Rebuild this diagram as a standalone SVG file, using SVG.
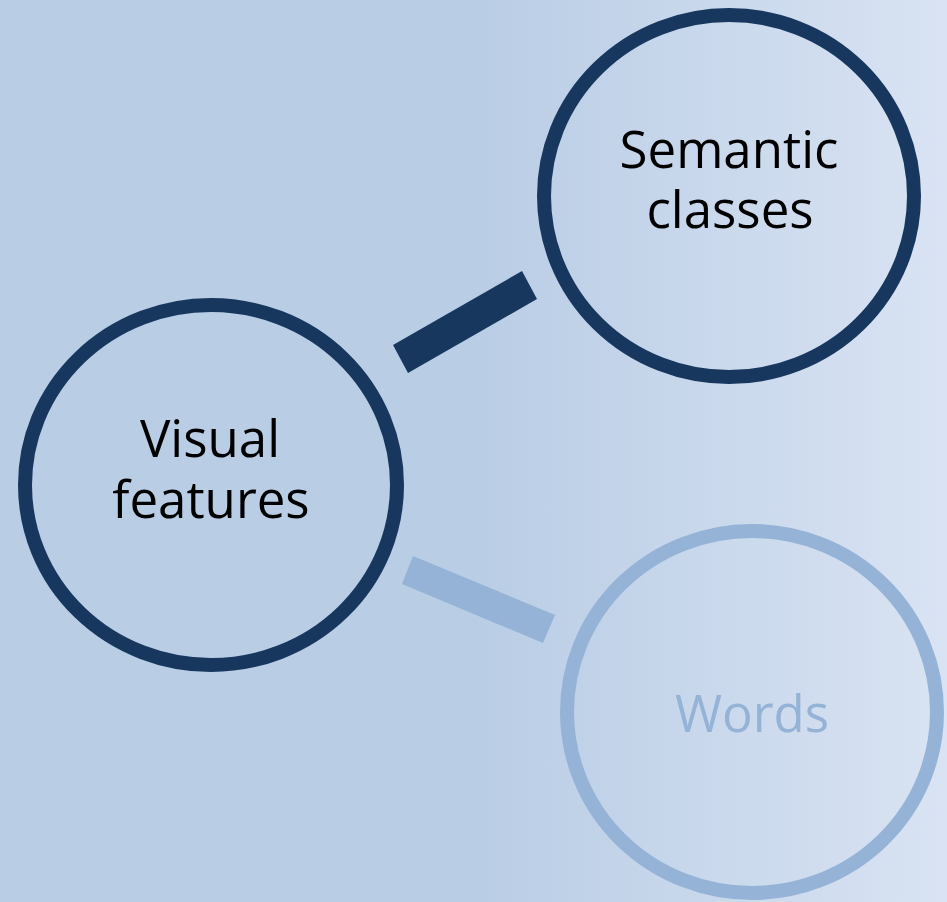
<svg xmlns="http://www.w3.org/2000/svg" width="947" height="902" viewBox="0 0 947 902">
<defs>
<linearGradient id="bg" x1="0" y1="0" x2="1" y2="0">
<stop offset="0" stop-color="#b9cde5"/>
<stop offset="0.5" stop-color="#b9cde5"/>
<stop offset="1" stop-color="#d9e3f3"/>
</linearGradient>
<style>
.ring{fill:none;stroke-width:14}
.dark{stroke:#17375e}
.light{stroke:#95b3d7}
.lbl{font-family:"Open Sans","DejaVu Sans",sans-serif;font-size:51px;text-anchor:middle}
</style>
</defs>
<rect width="947" height="902" fill="url(#bg)"/>
<g id="connectors">
<polygon points="393,345 522,271 537,299 408,373" fill="#17375e"/>
<polygon points="413,556 555,615 543,643 402,584" fill="#95b3d7"/>
</g>
<g id="visual">
<ellipse class="ring dark" cx="211" cy="485" rx="186" ry="180"/>
<text class="lbl" fill="#000"><tspan x="210" y="457">Visual</tspan><tspan x="211" y="518">features</tspan></text>
</g>
<g id="semantic">
<ellipse class="ring dark" cx="729" cy="196" rx="185" ry="181"/>
<text class="lbl" fill="#000"><tspan x="729" y="168">Semantic</tspan><tspan x="730" y="228">classes</tspan></text>
</g>
<g id="words">
<ellipse class="ring light" cx="752" cy="712" rx="185" ry="181"/>
<text class="lbl" x="752" y="732" fill="#95b3d7">Words</text>
</g>
</svg>
